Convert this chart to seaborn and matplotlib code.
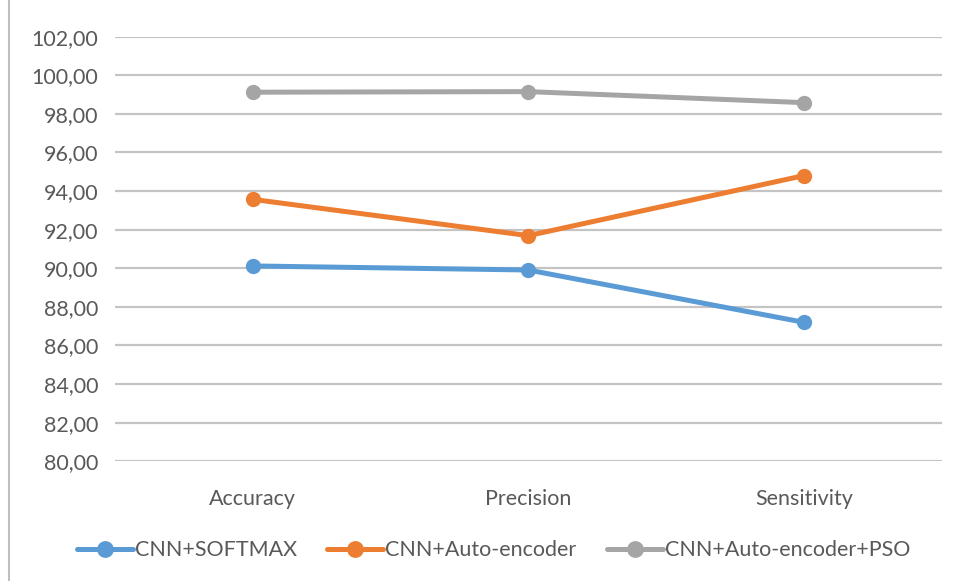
import seaborn as sns
import matplotlib.pyplot as plt
import matplotlib.ticker as mticker
import pandas as pd

# valores
metricas = ["Accuracy", "Precision", "Sensitivity"]
softmax = [90.12, 89.91, 87.20]
autoencoder = [93.57, 91.69, 94.80]
autoencoder_pso = [99.12, 99.15, 98.58]
series = ["CNN+SOFTMAX", "CNN+Auto-encoder", "CNN+Auto-encoder+PSO"]

df = pd.DataFrame({
    "metrica": metricas * 3,
    "valor": softmax + autoencoder + autoencoder_pso,
    "modelo": [s for s in series for _ in metricas],
})

sns.set_theme(style="white")
plt.rcParams["font.family"] = ["Lato", "DejaVu Sans"]

colores = ["#5B9BD5", "#ED7D31", "#A5A5A5"]

fig = plt.figure(figsize=(9.58, 5.81), dpi=100)
ax = fig.add_axes([0.12, 0.206, 0.863, 0.731])

sns.lineplot(
    data=df, x="metrica", y="valor", hue="modelo",
    palette=colores, marker="o", markersize=11, markeredgewidth=0,
    linewidth=3.6, sort=False, ax=ax, zorder=3,
)

ax.set_ylim(80, 102)
ax.set_xlim(-0.5, 2.5)
ax.yaxis.set_major_locator(mticker.MultipleLocator(2))
ax.yaxis.set_major_formatter(
    mticker.FuncFormatter(lambda v, p: f"{v:.2f}".replace(".", ","))
)
ax.grid(axis="y", color="#C4C4C4", linewidth=1.6)
for s in ax.spines.values():
    s.set_visible(False)
ax.tick_params(axis="both", length=0, labelsize=15.5, colors="#595959")
ax.tick_params(axis="y", pad=12)
ax.tick_params(axis="x", pad=20)
ax.set_xlabel("")
ax.set_ylabel("")

ax.legend(
    title=None, loc="center", bbox_to_anchor=(0.515, 0.053),
    bbox_transform=fig.transFigure, ncol=3, frameon=False,
    fontsize=15.5, handlelength=2.6, columnspacing=1.4, handletextpad=0.1,
    labelcolor="#595959", markerscale=1.1,
)

# borde izquierdo del cuadro del gráfico
fig.add_artist(plt.Line2D([0.009, 0.009], [0.0, 1.0], color="#BFBFBF",
                          linewidth=1.5, transform=fig.transFigure))

fig.savefig("out.png", dpi=100)
